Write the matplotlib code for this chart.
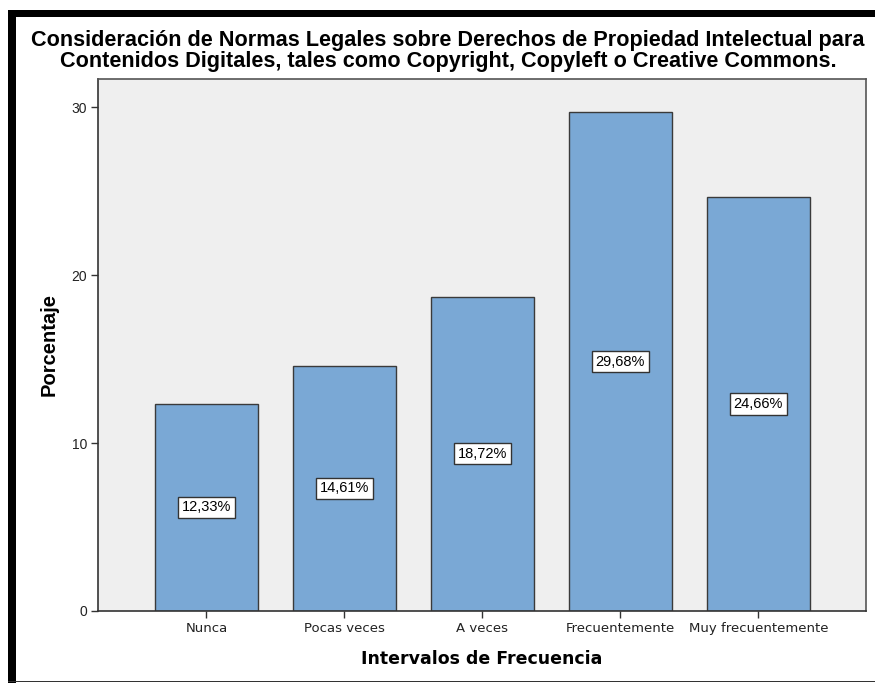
import numpy as np
import matplotlib.pyplot as plt
from matplotlib.patches import Rectangle

# Datos
categorias = ['Nunca', 'Pocas veces', 'A veces', 'Frecuentemente', 'Muy frecuentemente']
porcentajes = [12.33, 14.61, 18.72, 29.68, 24.66]
etiquetas = ['12,33%', '14,61%', '18,72%', '29,68%', '24,66%']
yticks = [0, 10, 20, 30]

titulo = ('Consideración de Normas Legales sobre Derechos de Propiedad Intelectual para\n'
          'Contenidos Digitales, tales como Copyright, Copyleft o Creative Commons.')

W, H = 875, 683
fig = plt.figure(figsize=(W / 100, H / 100), dpi=100)
fig.patch.set_facecolor('white')

# Ejes en pixeles
x0, x1, y0, y1 = 98, 866, 79, 611
ax = fig.add_axes([x0 / W, 1 - y1 / H, (x1 - x0) / W, (y1 - y0) / H])
ax.set_facecolor('#efefef')

x = np.arange(len(categorias))
ax.bar(x, porcentajes, width=0.746, color='#7aa8d5', edgecolor='#3a3a3a', linewidth=1.0, zorder=2)

for xi, v, lab in zip(x, porcentajes, etiquetas):
    ax.text(xi, v / 2, lab, ha='center', va='center', fontsize=10.5, family='Liberation Sans',
            bbox=dict(boxstyle='square,pad=0.25', facecolor='white', edgecolor='#333333', linewidth=1.0),
            zorder=3)

ax.set_xlim(-0.786, 4.78)
ax.set_ylim(0, 31.67)
ax.set_xticks(x)
ax.set_xticklabels(categorias, fontsize=9.5, family='DejaVu Sans', color='#222222')
ax.set_yticks(yticks)
ax.set_yticklabels([str(t) for t in yticks], fontsize=10, family='Liberation Sans', color='#222222')
ax.tick_params(axis='both', direction='out', length=5, width=1, color='#333333', pad=3)

for s in ax.spines.values():
    s.set_color('#555555')
    s.set_linewidth(1.2)
ax.spines['left'].set_color('#333333')
ax.spines['bottom'].set_color('#333333')

ax.set_ylabel('Porcentaje', fontsize=14.5, fontweight='bold', family='Liberation Sans', labelpad=9)
ax.set_xlabel('Intervalos de Frecuencia', fontsize=12.5, fontweight='bold', family='DejaVu Sans', labelpad=11)

fig.text(448 / W, 1 - 51 / H, titulo, ha='center', va='center', fontsize=15.6,
         fontweight='bold', family='Liberation Sans', linespacing=0.95)

# Marco exterior
fig.patches.append(Rectangle((8 / W, 0), 8 / W, 1 - 10 / H, transform=fig.transFigure,
                             facecolor='black', edgecolor='none'))
fig.patches.append(Rectangle((8 / W, 1 - 17 / H), 1 - 8 / W, 7 / H, transform=fig.transFigure,
                             facecolor='black', edgecolor='none'))
fig.patches.append(Rectangle((8 / W, 1 - 682 / H), 1 - 8 / W, 1.5 / H, transform=fig.transFigure,
                             facecolor='#333333', edgecolor='none'))

fig.savefig('out.png', dpi=100)
